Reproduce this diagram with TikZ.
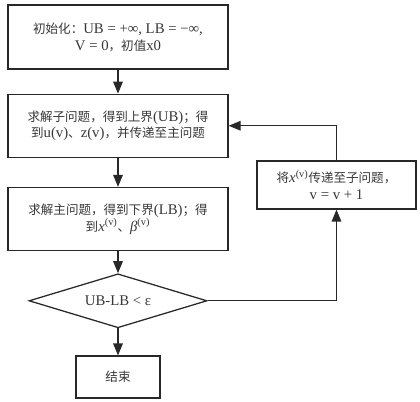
\documentclass[tikz,border=0pt]{standalone}
\usepackage{fontspec}
\setmainfont{Liberation Serif}
\newfontfamily\cjk[Scale=0.85]{Noto Sans CJK SC}
\usepackage{xcolor}
\usetikzlibrary{positioning,arrows.meta,shapes.geometric}
\definecolor{linegray}{RGB}{40,40,40}
\definecolor{textgray}{RGB}{55,55,55}
\newcommand{\zh}[1]{{\cjk #1}}
\tikzset{
  flow-box/.style={draw=linegray, line width=0.9pt, minimum width=5.5cm,
    minimum height=1.575cm, align=center, text=textgray, inner sep=3pt,
    font=\fontsize{10.5}{12}\selectfont},
  side-box/.style={flow-box, minimum width=3.975cm, minimum height=1.2cm},
  end-box/.style={flow-box, minimum width=2.1cm, minimum height=1.05cm},
  decision-node/.style={diamond, aspect=3.3, draw=linegray, line width=0.9pt,
    minimum width=4.45cm, minimum height=1.35cm, inner sep=0pt, align=center,
    text=textgray, font=\fontsize{10.5}{12}\selectfont},
  flow-arrow/.style={-{Triangle[length=3mm, width=2.4mm]}, line width=0.9pt, draw=linegray}
}
\begin{document}
\begin{tikzpicture}
\useasboundingbox (0,0) rectangle (10.5,-10.05);
% main column
\node[flow-box, minimum height=1.6cm] (init) at (2.95,-0.925)
  {\zh{初始化：}UB = +∞, LB = −∞,\\V = 0\zh{，初值}x0};
\node[flow-box, below=0.6cm of init] (sub)
  {\zh{求解子问题，得到上界}(UB)\zh{；得}\\\zh{到}u(v)\zh{、}z(v)\zh{，并传递至主问题}};
\node[flow-box, below=0.725cm of sub] (master)
  {\zh{求解主问题，得到下界}(LB)\zh{；得}\\\zh{到}\textit{x}\textsuperscript{(v)}\zh{、}\textit{β}\textsuperscript{(v)}};
\node[decision-node, below=0.55cm of master] (check) {UB-LB < ε};
\node[end-box, below=0.675cm of check] (finish) {\zh{结束}};

% feedback branch
\node[side-box] (update) at (8.4125,-4.625)
  {\zh{将}\textit{x}\textsuperscript{(v)}\zh{传递至子问题，}\\v = v + 1};

\draw[flow-arrow] (init) -- (sub);
\draw[flow-arrow] (sub) -- (master);
\draw[flow-arrow] (master) -- (check);
\draw[flow-arrow] (check) -- (finish);
\draw[flow-arrow] (check.east) -| (update.south);
\draw[flow-arrow] (update.north) |- (sub.east);
\end{tikzpicture}
\end{document}
